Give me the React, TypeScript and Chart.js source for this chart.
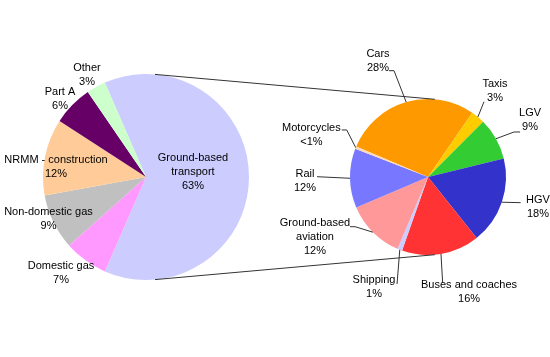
import React, { useEffect, useRef } from 'react';
import { Chart, registerables } from 'chart.js';

Chart.register(...registerables);

// ---- Data ----
const MAIN_CATEGORIES = ['Ground-based\ntransport', 'Domestic gas', 'Non-domestic gas', 'NRMM - construction', 'Part A', 'Other'];
const MAIN_VALUES = [63.1, 6.9, 8.7, 12.0, 6.3, 3.0];
const MAIN_COLORS = ['#CCCCFF', '#FF99FF', '#C0C0C0', '#FFCC99', '#660066', '#CCFFCC'];

const SUB_CATEGORIES = ['Cars', 'Taxis', 'LGV', 'HGV', 'Buses and coaches', 'Shipping', 'Ground-based\naviation', 'Rail', 'Motorcycles'];
const SUB_VALUES = [28.2, 2.9, 8.7, 18.1, 16.1, 1.0, 12.2, 12.3, 0.5];
const SUB_COLORS = ['#FF9900', '#FFCC00', '#33CC33', '#3333CC', '#FF3333', '#CCCCFF', '#FF9999', '#7777FF', '#FFD9B3'];

// ---- Layout (label placement relative to pie centre, in radius units) ----
const MAIN_LABEL_POS = [[0.456, -0.044], [-0.825, 0.932], [-0.947, 0.408], [-0.874, -0.097], [-0.835, -0.762], [-0.573, -0.99]];
const SUB_LABEL_POS = [[-0.641, -1.487], [0.859, -1.103], [1.308, -0.731], [1.41, 0.385], [0.526, 1.474], [-0.692, 1.41], [-1.449, 0.769], [-1.577, 0.045], [-1.495, -0.535]];
const SUB_LEADER_END = [[-0.5, -1.363], [0.718, -0.965], [1.18, -0.577], [1.188, 0.329], [0.188, 1.359], [-0.397, 1.372], [-1.0, 0.637], [-1.423, -0.004], [-1.106, -0.603]];
const SUB_LEADER_STUB = [5, 0, 6, 0, 0, 0, 5, 0, 5];

const W = 550;
const H = 357;
const FONT = '11px "Liberation Sans", Arial, sans-serif';
const TEXT_COLOR = '#000000';
const LINE_COLOR = '#333333';
const LINE_H = 14;
const CONNECT_ANGLE = (5 * Math.PI) / 180;

function fmtPct(v: number) {
  return v < 1 ? '<1%' : Math.round(v) + '%';
}

function makeLabelPlugin(id: string, names: string[], values: number[], pos: number[][], leaders?: number[][], stubs?: number[]) {
  return {
    id,
    afterDatasetsDraw(chart: any) {
      const ctx = chart.ctx;
      const meta = chart.getDatasetMeta(0);
      ctx.save();
      ctx.font = FONT;
      ctx.textAlign = 'center';
      ctx.textBaseline = 'middle';
      meta.data.forEach((arc: any, i: number) => {
        const { x, y, startAngle, endAngle, outerRadius } = arc.getProps(['x', 'y', 'startAngle', 'endAngle', 'outerRadius'], true);
        if (leaders) {
          const mid = (startAngle + endAngle) / 2;
          const ex = x + leaders[i][0] * outerRadius;
          const ey = y + leaders[i][1] * outerRadius;
          const stub = stubs ? stubs[i] : 0;
          const dir = ex < x ? 1 : -1;
          ctx.beginPath();
          ctx.strokeStyle = LINE_COLOR;
          ctx.lineWidth = 1;
          ctx.moveTo(x + Math.cos(mid) * outerRadius, y + Math.sin(mid) * outerRadius);
          if (stub) ctx.lineTo(ex + dir * stub, ey);
          ctx.lineTo(ex, ey);
          ctx.stroke();
        }
        const lines = [...names[i].split('\n'), fmtPct(values[i])];
        const cx = x + pos[i][0] * outerRadius;
        const cy = y + pos[i][1] * outerRadius;
        ctx.fillStyle = TEXT_COLOR;
        lines.forEach((t, k) => ctx.fillText(t, cx, cy + (k - (lines.length - 1) / 2) * LINE_H));
      });
      ctx.restore();
    },
  };
}

function pieConfig(labels: string[], values: number[], colors: string[], rotation: number, padding: any, plugins: any[]) {
  return {
    type: 'pie' as const,
    data: {
      labels,
      datasets: [
        {
          data: values,
          backgroundColor: colors,
          borderWidth: 0,
          hoverOffset: 0,
          offset: 0,
        },
      ],
    },
    options: {
      responsive: false,
      maintainAspectRatio: false,
      animation: false as const,
      rotation,
      layout: { padding },
      plugins: {
        legend: { display: false },
        tooltip: { enabled: false },
      },
      events: [],
    },
    plugins,
  };
}

export default function App() {
  const leftRef = useRef<HTMLCanvasElement>(null);
  const rightRef = useRef<HTMLCanvasElement>(null);

  useEffect(() => {
    if (!leftRef.current || !rightRef.current) return;
    const left = new Chart(
      leftRef.current,
      pieConfig(
        MAIN_CATEGORIES,
        MAIN_VALUES,
        MAIN_COLORS,
        -23.6,
        { left: 43, top: 74, right: 301, bottom: 77 },
        [makeLabelPlugin('mainLabels', MAIN_CATEGORIES, MAIN_VALUES, MAIN_LABEL_POS)]
      ) as any
    );

    const connector = {
      id: 'connector',
      afterDatasetsDraw(chart: any) {
        const a: any = left.getDatasetMeta(0).data[0];
        const b: any = chart.getDatasetMeta(0).data[0];
        if (!a || !b) return;
        const pa = a.getProps(['x', 'y', 'outerRadius'], true);
        const pb = b.getProps(['x', 'y', 'outerRadius'], true);
        const s = Math.sin(CONNECT_ANGLE);
        const c = Math.cos(CONNECT_ANGLE);
        const ctx = chart.ctx;
        ctx.save();
        ctx.strokeStyle = LINE_COLOR;
        ctx.lineWidth = 1;
        ctx.beginPath();
        ctx.moveTo(pa.x + pa.outerRadius * s, pa.y - pa.outerRadius * c);
        ctx.lineTo(pb.x + pb.outerRadius * s, pb.y - pb.outerRadius * c);
        ctx.moveTo(pa.x + pa.outerRadius * s, pa.y + pa.outerRadius * c);
        ctx.lineTo(pb.x + pb.outerRadius * s, pb.y + pb.outerRadius * c);
        ctx.stroke();
        ctx.restore();
      },
    };

    const right = new Chart(
      rightRef.current,
      pieConfig(
        SUB_CATEGORIES,
        SUB_VALUES,
        SUB_COLORS,
        -67,
        { left: 350, top: 99, right: 44, bottom: 102 },
        [connector, makeLabelPlugin('subLabels', SUB_CATEGORIES, SUB_VALUES, SUB_LABEL_POS, SUB_LEADER_END, SUB_LEADER_STUB)]
      ) as any
    );

    return () => {
      right.destroy();
      left.destroy();
    };
  }, []);

  const canvasStyle: React.CSSProperties = { position: 'absolute', left: 0, top: 0 };

  return (
    <div style={{ position: 'absolute', left: 0, top: 0, width: W, height: H, background: '#ffffff' }}>
      <canvas ref={leftRef} width={W} height={H} style={canvasStyle} />
      <canvas ref={rightRef} width={W} height={H} style={canvasStyle} />
    </div>
  );
}
